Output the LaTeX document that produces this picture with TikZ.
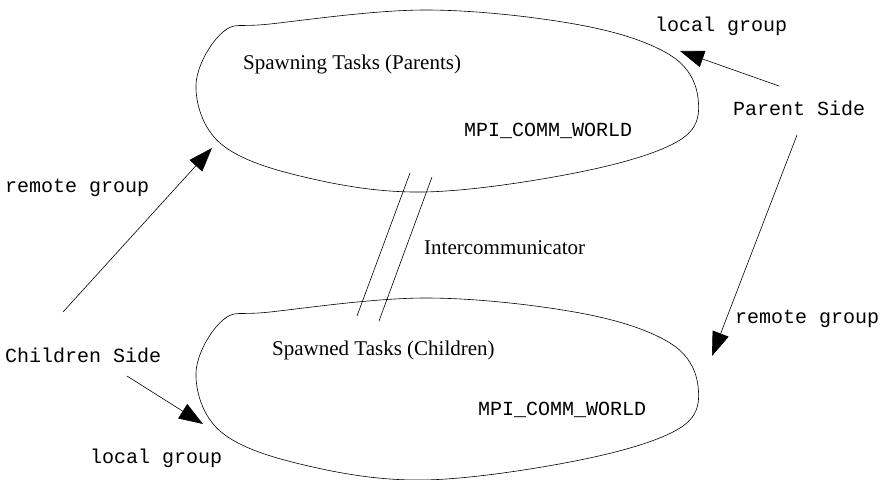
\documentclass[tikz,border=0pt]{standalone}
\usepackage{fontspec}
\setmainfont{Liberation Serif}
\setmonofont{Liberation Mono}
\usetikzlibrary{arrows.meta}
\begin{document}
\begin{tikzpicture}[x=1pt,y=-1pt,
  lbl/.style={inner sep=0pt,anchor=base west,font=\fontsize{21}{25}\selectfont},
  tlbl/.style={lbl,font=\fontsize{20}{24}\selectfont\ttfamily},
  blob/.style={line width=0.6pt,black},
  conn/.style={line width=0.6pt,-{Triangle[length=24pt,width=17pt]}},
  wire/.style={line width=0.6pt}]
\useasboundingbox (0,0) rectangle (885,479);
% blobs
\draw[blob] plot[smooth cycle,tension=0.6] coordinates {(196,85) (223,32) (270,24) (427,10) (580,25) (670,55) (698,98) (680,140) (580,172) (423,192) (300,176) (220,143)};
\begin{scope}[yshift=-288pt]
\draw[blob] plot[smooth cycle,tension=0.6] coordinates {(196,85) (223,32) (270,24) (427,10) (580,25) (670,55) (698,98) (680,140) (580,172) (423,192) (300,176) (220,143)};
\end{scope}
% texts
\node[lbl] (par) at (243,69) {Spawning Tasks (Parents)};
\node[tlbl] (w1) at (464,136) {MPI\_COMM\_WORLD};
\node[lbl] (chi) at (272,355) {Spawned Tasks (Children)};
\node[tlbl] (w2) at (478,415) {MPI\_COMM\_WORLD};
\node[lbl] (ic) at (424,254) {Intercommunicator};
\node[tlbl] (lgr) at (655,31) {local group};
\node[tlbl] (ps) at (733,115) {Parent Side};
\node[tlbl] (rgr) at (735,323) {remote group};
\node[tlbl] (rgl) at (5,192) {remote group};
\node[tlbl] (cs) at (5,362) {Children Side};
\node[tlbl] (lgl) at (90,463) {local group};
% intercommunicator lines
\coordinate (i1a) at (410,173); \coordinate (i1b) at (357,316);
\coordinate (i2a) at (432,177); \coordinate (i2b) at (379,321);
\draw[wire] (i1a) -- (i1b);
\draw[wire] (i2a) -- (i2b);
% arrows
\coordinate (ps1) at (779,86); \coordinate (t1) at (680,51);
\coordinate (ps2) at (797,135); \coordinate (t2) at (712,356);
\coordinate (cs1) at (63,312); \coordinate (t3) at (212,148);
\coordinate (cs2) at (127,376); \coordinate (t4) at (203,424);
\draw[conn] (ps1) -- (t1);
\draw[conn] (ps2) -- (t2);
\draw[conn] (cs1) -- (t3);
\draw[conn] (cs2) -- (t4);
\end{tikzpicture}
\end{document}
